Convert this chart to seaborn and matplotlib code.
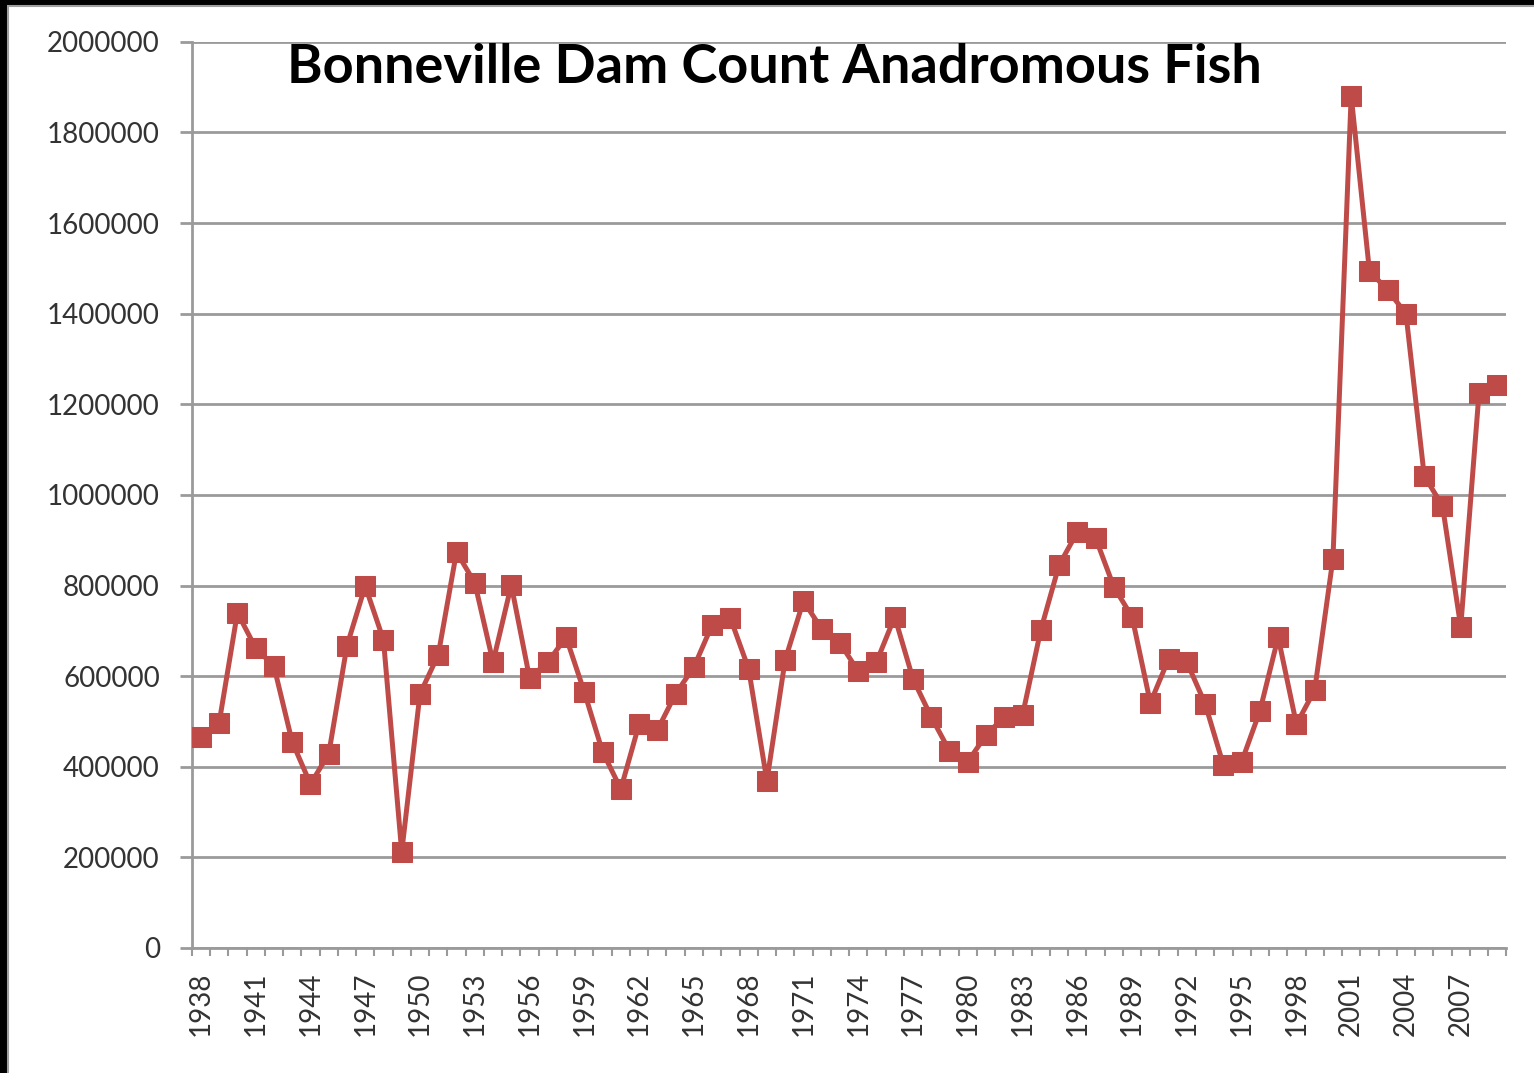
import numpy as np
import pandas as pd
import matplotlib
matplotlib.use("Agg")
import matplotlib.pyplot as plt
import seaborn as sns
from matplotlib.patches import Rectangle

years = list(range(1938, 2010))
counts = [
    465000, 497000, 740000, 662000, 622000, 455000, 362000, 428000,
    667000, 799000, 680000, 212000, 561000, 647000, 874000, 806000,
    631000, 801000, 596000, 631000, 686000, 565000, 433000, 351000,
    494000, 481000, 561000, 620000, 713000, 728000, 616000, 369000,
    636000, 766000, 704000, 673000, 611000, 631000, 731000, 594000,
    510000, 435000, 411000, 470000, 510000, 514000, 702000, 845000,
    918000, 905000, 797000, 731000, 541000, 638000, 631000, 539000,
    404000, 411000, 523000, 686000, 494000, 569000, 859000, 1881000,
    1494000, 1452000, 1400000, 1042000, 976000, 709000, 1225000, 1243000,
]
label_years = list(range(1938, 2010, 3))
y_ticks = list(range(0, 2000001, 200000))

df = pd.DataFrame({"year": years, "count": counts})

sns.set_style("white")
plt.rcParams["font.family"] = ["Lato", "DejaVu Sans"]

fig = plt.figure(figsize=(15.34, 10.73), dpi=100)
fig.patch.set_facecolor("black")
# white chart area inside the black screenshot border
fig.patches.append(Rectangle((8 / 1534, -0.02), 1.05, 1.02 - 6 / 1073,
                             transform=fig.transFigure, facecolor="white",
                             edgecolor="#a0a0a0", linewidth=1.5, zorder=-10))

ax = fig.add_axes([0.125, 0.1165, 0.857, 0.8445])
ax.set_zorder(1)
ax.patch.set_alpha(0)

line_color = "#BE4B48"
sns.lineplot(data=df, x="year", y="count", ax=ax, color=line_color,
             linewidth=3.6, marker="s", markersize=15,
             markeredgecolor=line_color, markerfacecolor=line_color,
             zorder=3)

ax.set_xlim(1937.5, 2009.5)
ax.set_ylim(0, 2000000)
ax.set_yticks(y_ticks)
ax.set_yticklabels([str(v) for v in y_ticks])
ax.yaxis.grid(True, color="#9a9a9a", linewidth=2)
ax.xaxis.grid(False)
ax.set_axisbelow(True)

ax.set_xticks(label_years)
ax.set_xticklabels([str(y) for y in label_years], rotation=90)
ax.set_xticks([y - 0.5 for y in years] + [2009.5], minor=True)
ax.tick_params(axis="x", which="major", length=0, pad=17,
               labelsize=20, labelcolor="#333333")
ax.tick_params(axis="x", which="minor", length=6, width=1.5,
               color="#9a9a9a", direction="out", bottom=True)
ax.tick_params(axis="y", which="major", length=9, width=2,
               color="#9a9a9a", pad=14, labelsize=20,
               labelcolor="#333333", left=True)

for side in ["top", "right"]:
    ax.spines[side].set_visible(False)
ax.spines["left"].set_color("#9a9a9a")
ax.spines["left"].set_linewidth(2)
ax.spines["bottom"].set_color("#9a9a9a")
ax.spines["bottom"].set_linewidth(2)

ax.set_xlabel("")
ax.set_ylabel("")

fig.text(0.505, 0.937, "Bonneville Dam Count Anadromous Fish",
         ha="center", va="center", fontsize=39, fontweight="bold",
         color="black", zorder=5)

fig.savefig("out.png", dpi=100, facecolor=fig.get_facecolor())
